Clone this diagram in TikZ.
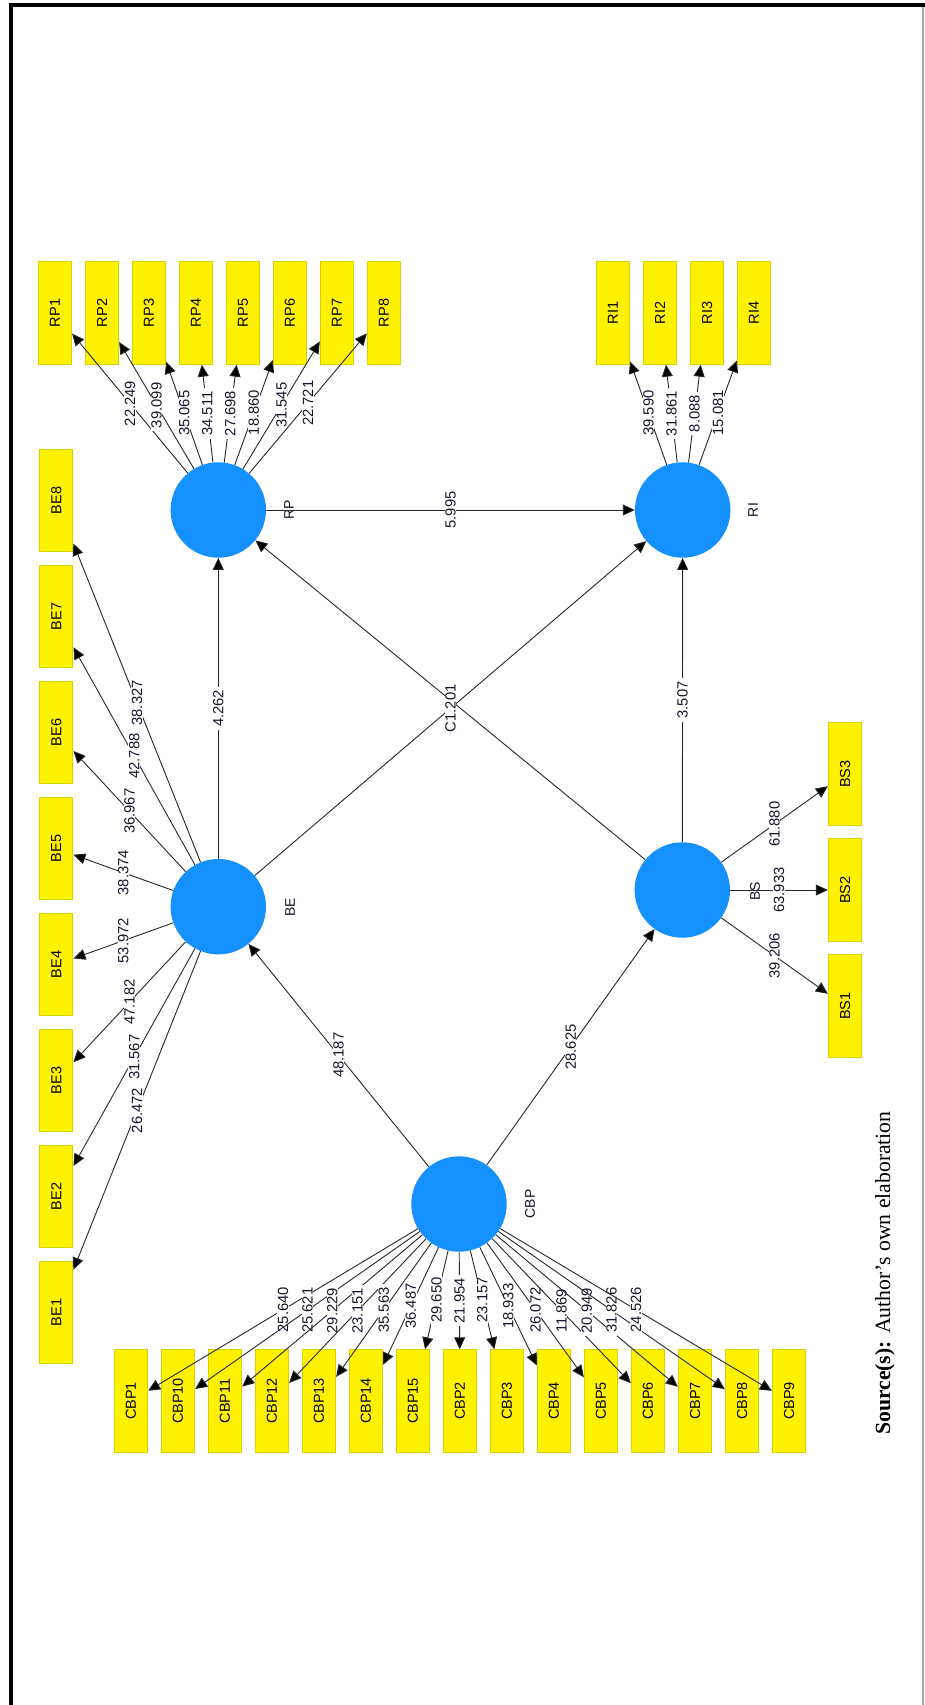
\documentclass[tikz,border=0pt]{standalone}
\usepackage{fontspec}
\setmainfont{Liberation Sans}
\newfontfamily\srcfont{Liberation Serif}
\usetikzlibrary{arrows.meta}
\definecolor{latblue}{RGB}{20,144,255}
\definecolor{boxedge}{RGB}{212,212,0}
\definecolor{linecol}{RGB}{40,40,40}
\definecolor{labtext}{RGB}{20,20,45}
\begin{document}
\begin{tikzpicture}[x=1pt,y=-1pt,
 lat/.style={circle,fill=latblue,minimum size=95.4pt,inner sep=0pt},
 ind/.style={rectangle,fill=yellow,draw=boxedge,line width=1pt,minimum width=102.4pt,minimum height=33.3pt,inner sep=0pt,rotate=90,font=\fontsize{14.5}{14.5}\selectfont},
 lv/.style={font=\fontsize{14}{14}\selectfont,rotate=90,text=labtext,inner sep=0pt},
 edge/.style={draw=linecol,line width=0.9pt,-{Triangle[length=12pt,width=11pt,fill=black]}},
 num/.style={fill=white,inner xsep=3pt,inner ysep=0.5pt,rotate=90,font=\fontsize{14.8}{14.8}\selectfont,text=labtext,midway}
]
\fill[white] (0,0) rectangle (925,1705);
\useasboundingbox (0,0) rectangle (925,1705);
% frame
\fill[black] (9,3) rectangle (925,7);
\fill[black] (9,3) rectangle (13,1705);
\draw[gray!70,line width=1.5pt] (923,7) -- (923,1705);

% latent variables
\node[lat] (RP) at (218.3,510) {};
\node[lat] (BE) at (218.3,906.7) {};
\node[lat] (CBP) at (459,1204) {};
\node[lat] (RI) at (682.7,510) {};
\node[lat] (BS) at (682.3,890) {};
\node[lv] (RPl) at (289,510) {RP};
\node[lv] (BEl) at (290,907) {BE};
\node[lv] (CBPl) at (530,1204) {CBP};
\node[lv] (RIl) at (753,510) {RI};
\node[lv] (BSl) at (755,891) {BS};

% indicators
\foreach \i in {1,...,8} {
  \node[ind] (RP\i) at ({55+47*(\i-1)},313) {RP\i};
  \node[ind] (BE\i) at (56.3,{500.6+116*(8-\i)}) {BE\i};
}
\foreach \i in {1,...,4} {
  \node[ind] (RI\i) at ({613+47*(\i-1)},313) {RI\i};
}
\foreach \i in {1,2,3} {
  \node[ind] (BS\i) at (845,{1006-116*(\i-1)}) {BS\i};
}
\foreach \n [count=\i from 0] in {1,10,11,12,13,14,15,2,3,4,5,6,7,8,9} {
  \node[ind] (CBP\n) at ({131+47*\i},1401) {CBP\n};
}

% outer loadings
\foreach \i/\v in {1/22.249,2/39.099,3/35.065,4/34.511,5/27.698,6/18.860,7/31.545,8/22.721} {
  \draw[edge] (RP) -- node[num]{\v} (RP\i);
}
\foreach \i/\v in {1/26.472,2/31.567,3/47.182,4/53.972,5/38.374,6/36.967,7/42.788,8/38.327} {
  \draw[edge] (BE) -- node[num]{\v} (BE\i);
}
\foreach \i/\v in {1/39.590,2/31.861,3/8.088,4/15.081} {
  \draw[edge] (RI) -- node[num]{\v} (RI\i);
}
\foreach \i/\v in {1/39.206,2/63.933,3/61.880} {
  \draw[edge] (BS) -- node[num]{\v} (BS\i);
}
\foreach \n/\v in {1/25.640,10/25.621,11/29.229,12/23.151,13/35.563,14/36.487,15/29.650,2/21.954,3/23.157,4/18.933,5/26.072,6/11.869,7/20.949,8/31.826,9/24.526} {
  \draw[edge] (CBP) -- node[num]{\v} (CBP\n);
}

% structural paths
\draw[edge] (CBP) -- node[num]{48.187} (BE);
\draw[edge] (CBP) -- node[num]{28.625} (BS);
\draw[edge] (BE) -- node[num]{4.262} (RP);
\draw[edge] (RP) -- node[num]{5.995} (RI);
\draw[edge] (BS) -- node[num]{3.507} (RI);
\draw[edge] (BS) -- (RP);
\draw[edge] (BE) -- node[num]{C1.201} (RI);

% source
\node[rotate=90,font=\srcfont\fontsize{21.7}{21.7}\selectfont,inner sep=0pt] (src) at (885,1273) {\textbf{Source(s):} Author’s own elaboration};
\end{tikzpicture}
\end{document}
